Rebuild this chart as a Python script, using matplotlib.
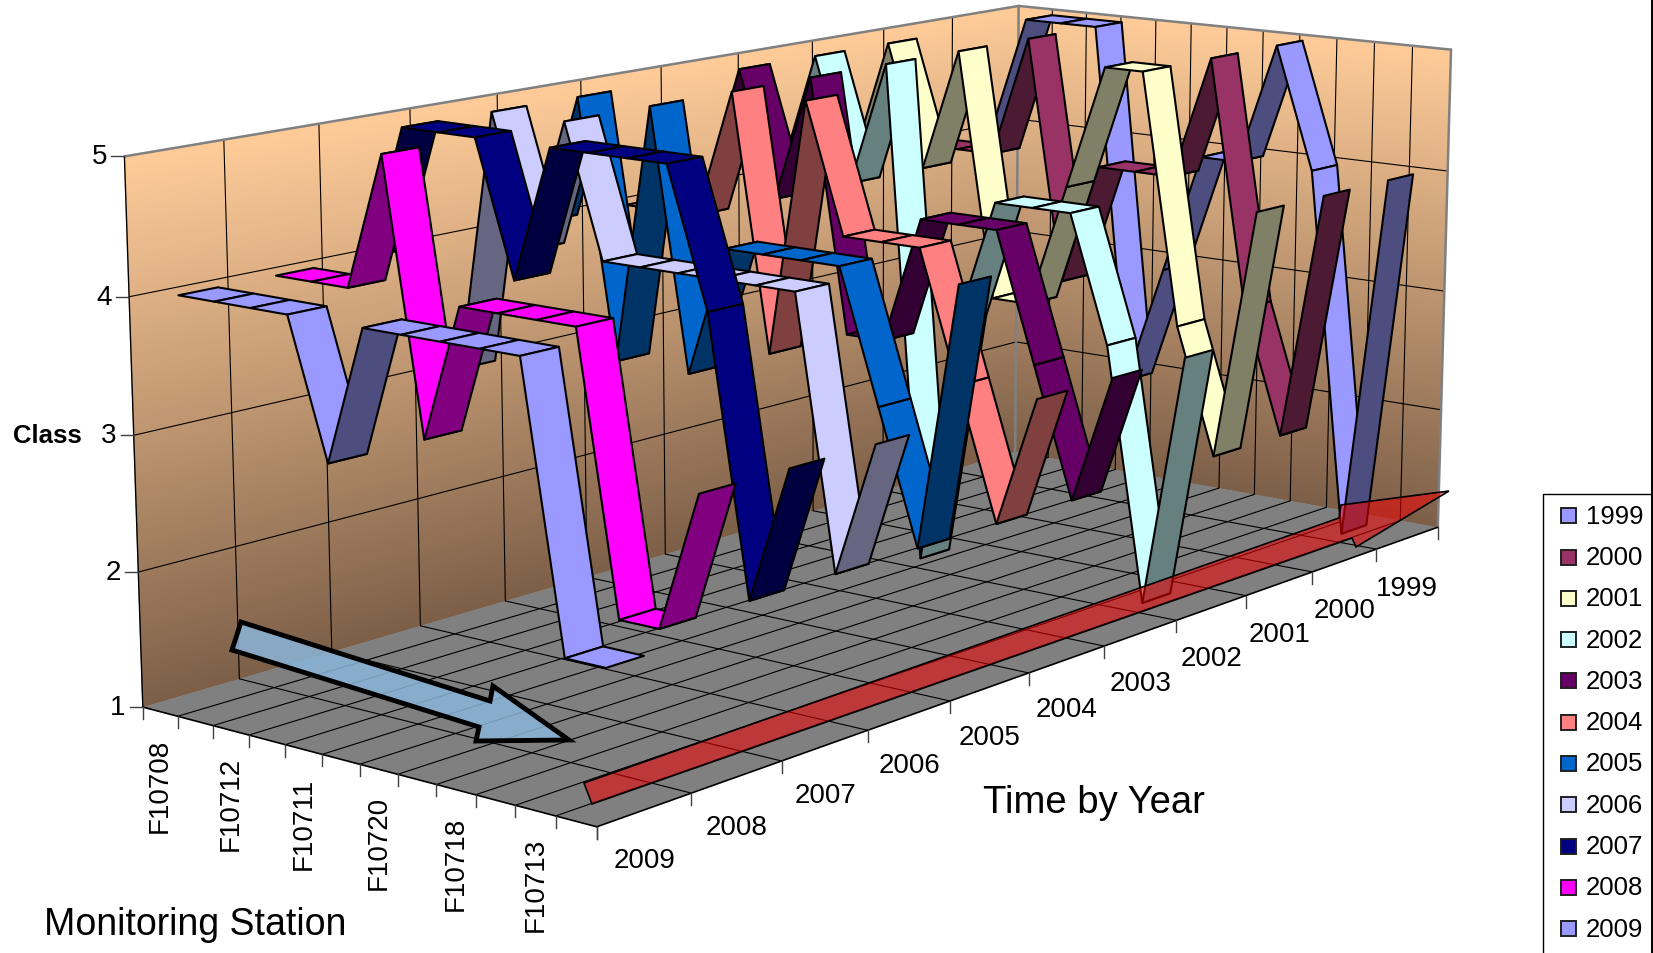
"""3-D ribbon chart of class by monitoring station and year, drawn in 2-D with a fitted camera."""

import matplotlib

matplotlib.use("Agg")
import matplotlib.pyplot as plt
import numpy as np
from matplotlib.colors import LinearSegmentedColormap
from matplotlib.patches import Polygon, Rectangle

plt.rcParams["font.family"] = ["Liberation Sans", "DejaVu Sans"]

# class per station (12 stations, only every other one is labelled)
class_1999 = [4, 5, 5, 5, 2, 3, 4, 4, 5, 4, 1, 4]
class_2000 = [4, 4, 4, 5, 3, 4, 4, 4, 5, 3, 2, 4]
class_2001 = [4, 5, 4, 5, 3, 3, 4, 5, 5, 3, 2, 4]
class_2002 = [4, 5, 4, 5, 1, 3, 4, 4, 4, 3, 1, 3]
class_2003 = [4, 5, 4, 5, 3, 3, 4, 4, 4, 3, 2, 3]
class_2004 = [4, 4, 4, 5, 3, 5, 4, 4, 4, 3, 2, 3]
class_2005 = [4, 5, 3, 5, 3, 4, 4, 4, 4, 3, 2, 4]
class_2006 = [3, 5, 4, 5, 4, 4, 4, 4, 4, 4, 2, 3]
class_2007 = [4, 5, 5, 5, 4, 5, 5, 5, 5, 4, 2, 3]
class_2008 = [4, 4, 4, 5, 3, 4, 4, 4, 4, 2, 2, 3]
class_2009 = [4, 4, 4, 4, 3, 4, 4, 4, 4, 4, 2, 2]

# front of the chart first
years = [2009, 2008, 2007, 2006, 2005, 2004, 2003, 2002, 2001, 2000, 1999]
series = [class_2009, class_2008, class_2007, class_2006, class_2005, class_2004,
          class_2003, class_2002, class_2001, class_2000, class_1999]
colors = ["#9999FF", "#FF00FF", "#000080", "#CCCCFF", "#0066CC", "#FF8080",
          "#660066", "#CCFFFF", "#FFFFCC", "#993366", "#9999FF"]
station_labels = ["F10708", "F10712", "F10711", "F10720", "F10718", "F10713"]
class_ticks = [1, 2, 3, 4, 5]

N_STATIONS = 12
N_YEARS = 11
RIBBON_FRONT = 0.27  # front edge of a ribbon inside its year cell
RIBBON_WIDTH = 0.40
STATION_SHIFT = 0.13  # ribbons sit a little off the cell centres

# box corners (station, year depth, class) -> picture pixels, used to fit the camera
BOX_WORLD = [(0, 0, 1), (0, 0, 5), (0, 11, 1), (0, 11, 5), (12, 11, 1), (12, 11, 5), (12, 0, 1)]
BOX_PIXEL = [(143, 708), (124.4, 157.3), (1015, 453), (1018.7, 6.7),
             (1438, 527.7), (1451, 51), (596.6, 828)]

BLUE_ARROW = [(241, 623), (232, 651), (479, 728), (476, 742), (569, 741), (493, 687), (490, 702)]
RED_ARROW = [(584, 784), (1339, 519), (1341, 506), (1449, 492), (1356, 548), (1352, 539), (592, 805)]


def fit_camera(world, pixel):
    rows = []
    for (x, y, z), (u, v) in zip(world, pixel):
        rows.append([x, y, z, 1, 0, 0, 0, 0, -u * x, -u * y, -u * z, -u])
        rows.append([0, 0, 0, 0, x, y, z, 1, -v * x, -v * y, -v * z, -v])
    _, _, vt = np.linalg.svd(np.array(rows, dtype=float))
    return vt[-1].reshape(3, 4)


CAMERA = fit_camera(BOX_WORLD, BOX_PIXEL)


def project(x, y, z):
    x, y, z = np.broadcast_arrays(np.asarray(x, float), np.asarray(y, float), np.asarray(z, float))
    pts = np.stack([x, y, z, np.ones_like(x)], axis=-1) @ CAMERA.T
    return pts[..., 0] / pts[..., 2], pts[..., 1] / pts[..., 2]


def line3d(ax, p, q, color="black", lw=0.8, zorder=2):
    u, v = project(*np.array([p, q], dtype=float).T)
    ax.plot(u, v, color=color, lw=lw, zorder=zorder, solid_capstyle="round")


def main():
    fig = plt.figure(figsize=(16.53, 9.54), dpi=100)
    ax = fig.add_axes([0, 0, 1, 1])
    ax.set_xlim(0, 1653)
    ax.set_ylim(954, 0)
    ax.axis("off")

    # ----- walls and floor -----
    wall_cmap = LinearSegmentedColormap.from_list("wall", ["#7D5F48", "#FFCC99"])
    zs = np.linspace(1, 5, 60)
    ys_grid, zs_grid = np.meshgrid(np.linspace(0, N_YEARS, 24), zs)
    u, v = project(0, ys_grid, zs_grid)
    ax.pcolormesh(u, v, zs_grid, cmap=wall_cmap, shading="gouraud", zorder=1)
    xs_grid, zs_grid = np.meshgrid(np.linspace(0, N_STATIONS, 24), zs)
    u, v = project(xs_grid, N_YEARS, zs_grid)
    ax.pcolormesh(u, v, zs_grid, cmap=wall_cmap, shading="gouraud", zorder=1)
    u, v = project([0, 12, 12, 0], [0, 0, 11, 11], 1)
    ax.add_patch(Polygon(np.c_[u, v], facecolor="#808080", edgecolor="none", zorder=1))

    for level in class_ticks[1:-1]:
        line3d(ax, (0, 0, level), (0, N_YEARS, level))
        line3d(ax, (0, N_YEARS, level), (N_STATIONS, N_YEARS, level))
    for j in range(1, N_YEARS):
        line3d(ax, (0, j, 1), (0, j, 5))
        line3d(ax, (0, j, 1), (N_STATIONS, j, 1))
    for i in range(1, N_STATIONS):
        line3d(ax, (i, N_YEARS, 1), (i, N_YEARS, 5))
        line3d(ax, (i, 0, 1), (i, N_YEARS, 1))

    # frame
    for p, q in [((0, 0, 5), (0, 11, 5)), ((0, 11, 5), (12, 11, 5)), ((12, 11, 5), (12, 11, 1)),
                 ((0, 11, 5), (0, 11, 1))]:
        line3d(ax, p, q, color="#808080", lw=1.8)
    line3d(ax, (0, 0, 1), (0, 0, 5), lw=1.0)
    line3d(ax, (0, 0, 1), (12, 0, 1), lw=1.2)
    line3d(ax, (12, 0, 1), (12, 11, 1), lw=1.2)

    # ----- ticks and labels -----
    for level in class_ticks:
        u, v = project(0, 0, level)
        ax.plot([u - 13, u], [v, v], color="#404040", lw=1.0, zorder=2)
        ax.text(u - 17, v, str(level), ha="right", va="center", fontsize=20, zorder=6)
    for i in range(N_STATIONS + 1):
        u, v = project(i, 0, 1)
        ax.plot([u, u], [v, v + 12], color="#404040", lw=1.0, zorder=2)
    for j in range(N_YEARS + 1):
        u, v = project(12, j, 1)
        ax.plot([u, u], [v, v + 12], color="#404040", lw=1.0, zorder=2)
    for k, label in enumerate(station_labels):
        u, v = project(2 * k + 0.5, 0, 1)
        ax.text(u, v + 73, label, rotation=90, ha="center", va="center", fontsize=20, zorder=6)
    for j, year in enumerate(years):
        u, v = project(12, j + 0.5, 1)
        ax.text(u, v + 50, str(year), ha="center", va="center", fontsize=20, zorder=6)

    ax.text(13, 436, "Class", fontweight="bold", ha="left", va="center", fontsize=18.5)
    ax.text(44, 925, "Monitoring Station", ha="left", va="center", fontsize=27)
    ax.text(983, 803, "Time by Year", ha="left", va="center", fontsize=27.5)

    # ----- ribbons, back to front -----
    z_order = 3.0
    for j in reversed(range(N_YEARS)):
        values = series[j]
        base = np.array(matplotlib.colors.to_rgb(colors[j]))
        y0, y1 = j + RIBBON_FRONT, j + RIBBON_FRONT + RIBBON_WIDTH
        for i in range(N_STATIONS - 1):
            x0, x1 = i + 0.5 + STATION_SHIFT, i + 1.5 + STATION_SHIFT
            z0, z1 = values[i], values[i + 1]
            u, v = project([x0, x1, x1, x0], [y0, y0, y1, y1], [z0, z1, z1, z0])
            face = base * 0.5 if z1 > z0 else base
            ax.add_patch(Polygon(np.c_[u, v], facecolor=face, edgecolor="black", lw=1.5,
                                 joinstyle="round", zorder=z_order))
            z_order += 0.001

    # ----- drawn-on arrows -----
    ax.add_patch(Polygon(RED_ARROW, facecolor="#F00000", alpha=0.55, edgecolor="none", zorder=5))
    ax.add_patch(Polygon(RED_ARROW, facecolor="none", edgecolor="black", lw=1.2, zorder=5))
    ax.add_patch(Polygon(BLUE_ARROW, facecolor="#8AB5D9", alpha=0.85, edgecolor="none", zorder=5))
    ax.add_patch(Polygon(BLUE_ARROW, facecolor="none", edgecolor="black", lw=3.5,
                         joinstyle="miter", zorder=5))

    # ----- legend, runs off the bottom of the picture -----
    ax.plot([1543, 1543, 1652], [954, 495, 495], color="black", lw=1.0, zorder=6)
    ax.plot([1652, 1652], [0, 954], color="black", lw=1.4, zorder=6)
    for k, year in enumerate(sorted(years)):
        cy = 516.7 + 41.3 * k
        ax.add_patch(Rectangle((1561, cy - 7.5), 15, 15, facecolor=colors[N_YEARS - 1 - k],
                               edgecolor="#202020", lw=1.4, zorder=6))
        ax.text(1586, cy, str(year), ha="left", va="center", fontsize=18.5, zorder=6)

    fig.savefig("out.png", dpi=100)
    plt.close(fig)


if __name__ == "__main__":
    main()
